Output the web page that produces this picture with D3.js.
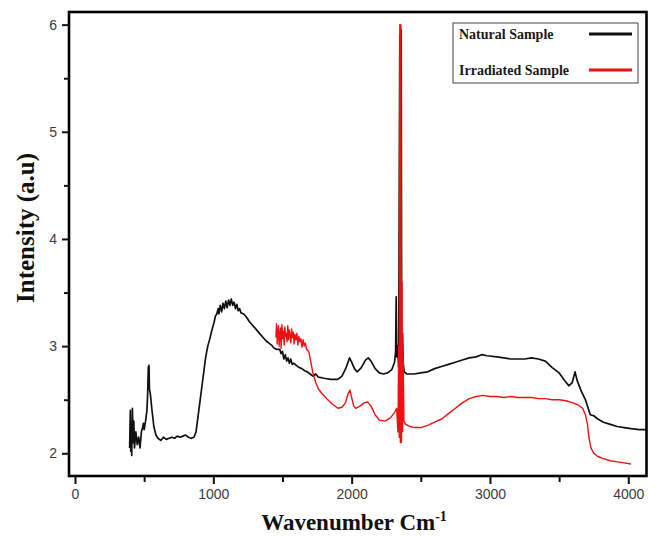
<!DOCTYPE html>
<html>
<head>
<meta charset="utf-8">
<script src="https://cdn.jsdelivr.net/npm/d3@7"></script>
<style>
  html, body { margin: 0; padding: 0; background: #fff; }
  svg { display: block; }
</style>
</head>
<body>
<svg id="chart" width="659" height="537"></svg>
<script>
// ---------------- DATA ----------------
const xTicks = [0, 1000, 2000, 3000, 4000];
const xMinorTicks = [500, 1500, 2500, 3500];
const yTicks = [2, 3, 4, 5, 6];
const yMinorTicks = [2.5, 3.5, 4.5, 5.5];
const seriesNames = ["Natural Sample", "Irradiated Sample"];

// Natural sample: wavenumber (cm-1)
const naturalX = [395,400,403,407,410,415,420,425,430,440,450,460,470,480,490,495,500,510,520,525,530,535,538,545,555,570,585,600,620,640,660,680,700,720,740,760,780,800,820,840,860,875,890,900,915,930,945,960,975,990,1005,1015,1025,1035,1040,1050,1060,1070,1080,1090,1100,1110,1120,1130,1140,1150,1160,1170,1180,1190,1200,1220,1240,1260,1280,1300,1320,1340,1360,1380,1400,1420,1440,1460,1480,1490,1500,1510,1520,1530,1540,1550,1560,1570,1580,1600,1620,1640,1660,1680,1700,1720,1740,1760,1800,1850,1900,1930,1960,1985,2000,2020,2040,2070,2100,2120,2140,2170,2200,2230,2260,2290,2310,2318,2322,2326,2332,2340,2348,2352,2358,2362,2368,2372,2380,2400,2450,2500,2550,2600,2650,2700,2750,2800,2850,2900,2940,2980,3050,3100,3150,3200,3250,3300,3350,3400,3450,3500,3540,3570,3595,3615,3630,3660,3690,3710,3725,3750,3780,3820,3870,3920,3970,4020,4080,4132];
// Natural sample: intensity (a.u)
const naturalY = [2.05,2.40,2.02,2.25,1.98,2.42,2.10,2.30,2.05,2.20,2.08,2.15,2.05,2.20,2.25,2.28,2.22,2.30,2.40,2.55,2.80,2.82,2.60,2.55,2.42,2.25,2.17,2.14,2.12,2.15,2.13,2.14,2.15,2.14,2.16,2.15,2.16,2.17,2.15,2.14,2.15,2.20,2.35,2.45,2.60,2.75,2.90,3.00,3.07,3.15,3.22,3.28,3.30,3.35,3.30,3.38,3.32,3.40,3.35,3.42,3.36,3.43,3.38,3.44,3.38,3.41,3.35,3.39,3.33,3.35,3.31,3.30,3.27,3.23,3.20,3.17,3.14,3.11,3.08,3.05,3.03,3.01,2.98,2.97,2.97,2.93,2.95,2.88,2.92,2.86,2.89,2.84,2.88,2.83,2.84,2.82,2.80,2.79,2.77,2.76,2.74,2.72,2.74,2.71,2.70,2.69,2.69,2.72,2.80,2.89,2.85,2.79,2.76,2.80,2.87,2.89,2.86,2.79,2.75,2.74,2.75,2.78,2.85,2.95,3.46,2.90,3.00,2.80,5.90,2.75,5.95,2.90,3.12,2.85,2.76,2.74,2.74,2.75,2.76,2.79,2.81,2.83,2.85,2.87,2.89,2.90,2.92,2.91,2.90,2.89,2.88,2.88,2.88,2.89,2.88,2.86,2.80,2.75,2.68,2.63,2.66,2.76,2.68,2.58,2.50,2.42,2.36,2.35,2.32,2.29,2.27,2.25,2.24,2.23,2.22,2.22];

// Irradiated sample: wavenumber (cm-1)
const irradiatedX = [1453,1457,1462,1466,1471,1476,1480,1486,1490,1496,1501,1506,1512,1517,1522,1528,1533,1538,1544,1549,1555,1561,1566,1572,1578,1584,1590,1597,1604,1611,1618,1626,1633,1641,1649,1657,1665,1675,1690,1705,1720,1740,1760,1790,1820,1860,1900,1930,1955,1975,1988,2000,2015,2030,2060,2090,2115,2140,2170,2200,2240,2280,2310,2325,2335,2340,2344,2348,2352,2356,2360,2364,2368,2372,2378,2390,2420,2460,2500,2550,2600,2650,2700,2750,2800,2850,2900,2950,3000,3050,3100,3150,3200,3250,3300,3350,3400,3450,3500,3550,3600,3640,3670,3690,3705,3715,3730,3750,3780,3820,3870,3920,3970,4020];
// Irradiated sample: intensity (a.u)
const irradiatedY = [3.08,3.21,3.02,3.12,3.19,3.00,3.10,3.17,2.98,3.20,3.07,3.14,3.01,3.18,3.09,3.12,3.04,3.19,3.06,3.15,3.10,3.03,3.16,3.08,3.13,3.02,3.11,3.06,3.12,3.01,3.09,3.04,3.07,2.99,3.06,3.00,3.03,2.97,2.95,2.85,2.75,2.66,2.60,2.55,2.51,2.46,2.42,2.43,2.47,2.56,2.59,2.52,2.44,2.42,2.44,2.47,2.48,2.44,2.36,2.31,2.30,2.33,2.38,2.42,2.20,3.00,2.15,6.00,2.10,6.00,2.10,3.60,2.20,2.90,2.30,2.27,2.25,2.24,2.24,2.26,2.29,2.32,2.37,2.42,2.47,2.51,2.53,2.54,2.53,2.53,2.52,2.53,2.52,2.52,2.52,2.51,2.51,2.50,2.50,2.49,2.47,2.45,2.42,2.36,2.27,2.15,2.05,2.00,1.97,1.95,1.93,1.92,1.91,1.90];

// ---------------- CHART ----------------
const svg = d3.select("#chart");
const plotL = 69, plotR = 646.5, plotT = 12, plotB = 476;

const x = d3.scaleLinear().domain([-43.4, 4131.6]).range([plotL, plotR]);
const y = d3.scaleLinear().domain([1.788, 6.118]).range([plotB, plotT]);

const natural = naturalX.map((v, i) => [v, naturalY[i]]);
const irradiated = irradiatedX.map((v, i) => [v, irradiatedY[i]]);

svg.append("clipPath").attr("id", "plotclip")
  .append("rect").attr("x", plotL).attr("y", plotT).attr("width", plotR - plotL).attr("height", plotB - plotT);

const line = d3.line().x(d => x(d[0])).y(d => y(d[1]));

const g = svg.append("g").attr("clip-path", "url(#plotclip)");
g.append("path").datum(natural).attr("d", line)
  .attr("fill", "none").attr("stroke", "#111").attr("stroke-width", 1.7).attr("stroke-linejoin", "round");
g.append("path").datum(irradiated).attr("d", line)
  .attr("fill", "none").attr("stroke", "#ee1111").attr("stroke-width", 1.4).attr("stroke-linejoin", "round");

// Axes
const tickFont = "'Liberation Sans', Arial, sans-serif";
const xAxis = svg.append("g").attr("transform", `translate(0,${plotB})`)
  .call(d3.axisBottom(x).tickValues(xTicks).tickSize(8).tickPadding(5).tickFormat(d3.format("d")));
const xAxisMinor = svg.append("g").attr("transform", `translate(0,${plotB})`)
  .call(d3.axisBottom(x).tickValues(xMinorTicks).tickSize(6).tickFormat(""));
const yAxis = svg.append("g").attr("transform", `translate(${plotL},0)`)
  .call(d3.axisLeft(y).tickValues(yTicks).tickSize(7).tickPadding(5).tickFormat(d3.format("d")));
const yAxisMinor = svg.append("g").attr("transform", `translate(${plotL},0)`)
  .call(d3.axisLeft(y).tickValues(yMinorTicks).tickSize(5).tickFormat(""));

[xAxis, xAxisMinor, yAxis, yAxisMinor].forEach(a => {
  a.select(".domain").remove();
  a.selectAll(".tick line").attr("stroke", "#111").attr("stroke-width", 2);
  a.selectAll(".tick text").attr("font-family", tickFont).attr("font-size", 14).attr("fill", "#3c3c3c");
});

// Frame
svg.append("rect").attr("x", plotL).attr("y", plotT).attr("width", plotR - plotL).attr("height", plotB - plotT)
  .attr("fill", "none").attr("stroke", "#000").attr("stroke-width", 2.6);

// Axis titles
const titleFont = "'Liberation Serif', 'Times New Roman', serif";
const xt = svg.append("text").attr("x", 354).attr("y", 530).attr("text-anchor", "middle")
  .attr("font-family", titleFont).attr("font-weight", "bold").attr("font-size", 23).attr("fill", "#111");
xt.append("tspan").text("Wavenumber Cm");
xt.append("tspan").attr("dy", -9).attr("font-size", 14).text("-1");

svg.append("text").attr("transform", "translate(34,228) rotate(-90)").attr("text-anchor", "middle")
  .attr("font-family", titleFont).attr("font-weight", "bold").attr("font-size", 25).attr("fill", "#111")
  .text("Intensity (a.u)");

// Legend
const legend = svg.append("g");
legend.append("rect").attr("x", 453).attr("y", 23).attr("width", 185).attr("height", 60)
  .attr("fill", "#fff").attr("stroke", "#444").attr("stroke-width", 1);
const legendColors = ["#111", "#ee1111"];
const legendY = [34, 70];
seriesNames.forEach((name, i) => {
  legend.append("text").attr("x", 459).attr("y", legendY[i] + 5)
    .attr("font-family", titleFont).attr("font-weight", "bold").attr("font-size", 14).attr("fill", "#1a1a1a")
    .text(name);
  legend.append("line").attr("x1", 589).attr("x2", 632).attr("y1", legendY[i]).attr("y2", legendY[i])
    .attr("stroke", legendColors[i]).attr("stroke-width", 3);
});
</script>
</body>
</html>
